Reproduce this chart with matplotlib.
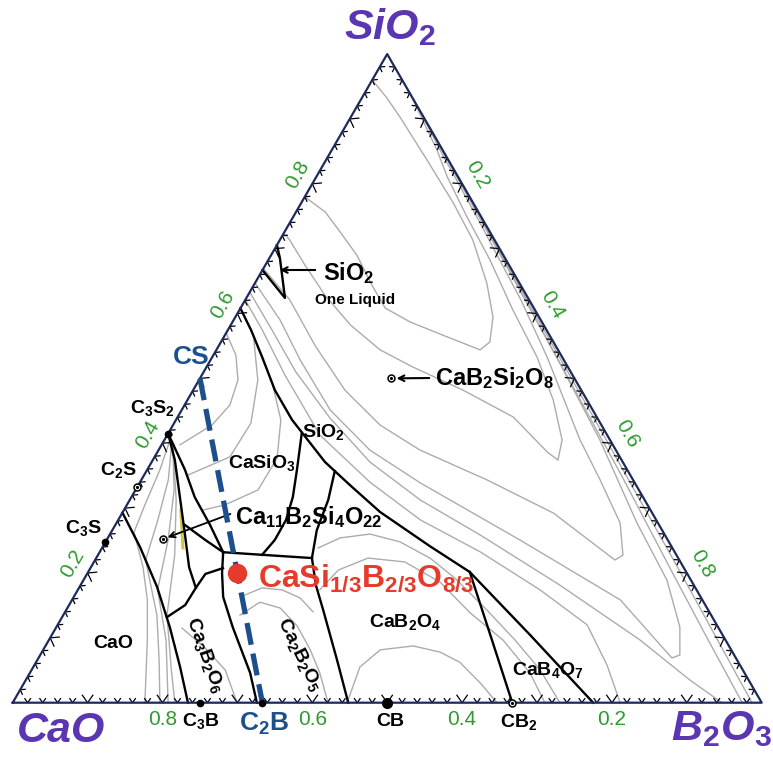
import matplotlib
matplotlib.use("Agg")
import matplotlib.pyplot as plt
import matplotlib.transforms as mtransforms
from matplotlib.collections import LineCollection
import numpy as np

plt.rcParams["font.family"] = ["Liberation Sans", "DejaVu Sans"]
plt.rcParams["mathtext.fontset"] = "custom"
plt.rcParams["mathtext.rm"] = "Liberation Sans:bold"
plt.rcParams["mathtext.it"] = "Liberation Sans:italic:bold"
plt.rcParams["mathtext.bf"] = "Liberation Sans:bold"

# all compositions in mol% as (SiO2, B2O3); CaO is the remainder

# phase field boundaries
liquidus_sio2 = [(60.8, 0), (57.45, 3.1), (53.3, 6.65), (48.2, 10.9), (43.6, 15.5),
                 (37.1, 23.15), (33.55, 28.25), (29.4, 34.35), (24.15, 43.6),
                 (20.15, 50.95), (10.45, 63.85), (0, 77.5)]
cb2_boundary = [(20.15, 50.95), (9.67, 59.15), (0, 66.7)]
casio3_sio2 = [(41.6, 17.8), (35.9, 20.0), (31.7, 21.55), (28.2, 22.4), (25.1, 22.45), (22.8, 21.9)]
ca11_cab2o4 = [(35.7, 25.15), (31.25, 26.5), (26.6, 27.3), (22.3, 28.8)]
ca11_lower = [(23.2, 16.5), (22.8, 21.9), (22.3, 28.8)]
c2b_cb = [(22.3, 28.8), (18.15, 31.4), (14.3, 34.3), (6.6, 40.0), (0, 44.8)]
c3s2_fan = [(41.5, 0), (35.9, 5.05), (31.7, 8.45), (27.4, 12.65), (23.2, 16.5)]
c3b_c2b = [(23.2, 16.5), (20.0, 17.95), (16.3, 19.95), (11.65, 23.55), (4.6, 29.4), (0, 32.6)]
c3b_upper = [(20.75, 17.7), (19.85, 15.8), (17.7, 15.6), (15.05, 15.5), (13.2, 14.0)]
cao_field = [(29.3, 0), (24.0, 5.0), (17.85, 10.35), (11.65, 15.15), (5.5, 19.6), (0, 23.4)]
c2s_field = [(41.5, 0), (37.4, 2.95), (31.25, 6.75), (26.15, 9.9), (20.9, 13.1), (17.7, 15.6)]
c2s_link = [(27.4, 9.3), (25.1, 13.15), (23.2, 16.5)]
liquid_gap = [(66.7, 0), (62.4, 5.15), (68.55, 1.4), (70.55, 0)]
yellow_trace = [(29.7, 7.6), (23.85, 10.8)]

# isotherms
iso_1 = [(96.0, 0), (93.4, 3.15), (90.3, 6.55), (83.7, 13.45), (77.05, 20.3), (71.35, 25.75),
         (64.7, 30.95), (59.45, 34.4), (55.6, 35.9), (54.4, 35.2), (56.4, 29.8), (58.7, 23.7),
         (60.85, 19.3), (64.4, 15.75), (69.0, 11.45), (72.6, 7.4), (75.65, 3.9), (78.0, 0)]
iso_2 = [(93.7, 6.3), (85.2, 14.05), (81.05, 17.5), (74.9, 23.2), (68.25, 29.6), (60.55, 36.5),
         (53.3, 43.35), (46.65, 48.85), (40.5, 53.1), (37.4, 54.1), (38.65, 52.05), (44.05, 44.8),
         (48.2, 36.0), (51.75, 27.55), (54.4, 21.85), (58.25, 15.95), (62.85, 10.25),
         (67.5, 5.25), (71.35, 1.3), (72.4, 0)]
iso_3 = [(91.0, 9.0), (85.0, 14.65), (74.5, 24.9), (62.1, 36.8), (53.3, 44.7), (40.5, 55.5),
         (34.35, 61.25), (27.7, 67.25), (22.75, 70.1), (22.0, 69.4), (29.25, 57.55),
         (34.35, 46.15), (38.95, 34.9), (42.8, 27.65), (48.2, 20.25), (55.15, 12.75),
         (62.1, 5.95), (66.95, 0)]
iso_4 = [(89.0, 11.0), (80.0, 19.8), (65.0, 34.55), (52.0, 47.2), (40.5, 58.15), (27.7, 69.5),
         (18.9, 77.9), (11.65, 83.25), (7.35, 85.4), (6.9, 84.55), (15.85, 73.2), (25.1, 55.15),
         (33.9, 37.45), (38.95, 28.2), (45.15, 19.8), (52.85, 11.95), (59.0, 6.2), (64.7, 0)]
iso_5 = [(63.3, 0), (57.45, 5.9), (51.0, 12.3), (43.9, 20.4), (37.1, 29.15), (31.25, 38.8),
         (25.85, 49.5), (18.15, 63.95), (9.65, 78.95), (3.5, 88.65), (0, 94.7)]
iso_6 = [(62.1, 0), (57.45, 4.6), (50.5, 11.1), (41.25, 20.4), (34.0, 30.7), (28.2, 40.3),
         (23.25, 50.8), (17.4, 61.7), (12.0, 70.7), (5.8, 76.45), (0, 81.1)]
iso_edge_1 = [(88.0, 12.0), (60.0, 39.7), (40.0, 59.5), (20.0, 79.2), (0, 98.7)]
iso_edge_2 = [(75.0, 24.8), (50.0, 49.2), (35.0, 63.8), (20.0, 78.1), (10.0, 87.7), (0, 97.4)]
iso_cab2o4_1 = [(17.4, 32.3), (20.45, 33.25), (22.3, 36.3), (21.7, 41.5), (18.6, 47.75),
                (13.85, 54.15), (9.65, 60.65), (4.6, 66.75), (0, 71.05)]
iso_cab2o4_2 = [(23.85, 28.85), (25.4, 31.0), (26.0, 34.7), (24.8, 39.3), (22.3, 44.55),
                (19.2, 49.45), (14.3, 56.15), (9.65, 62.25), (5.05, 67.9), (0, 73.05)]
iso_cb_dome = [(0, 44.65), (5.5, 43.6), (8.15, 45.0), (8.75, 49.1), (7.8, 53.15),
               (6.25, 56.55), (3.05, 60.9), (0, 64.65)]
iso_c2b_1 = [(13.5, 23.6), (15.5, 25.25), (14.6, 28.4), (11.85, 32.05), (8.15, 35.65),
             (4.6, 38.7), (0, 42.1)]
iso_c2b_2 = [(16.6, 22.7), (17.7, 24.45), (17.4, 27.25), (16.15, 30.3), (14.0, 33.1)]
iso_c3b = [(11.5, 16.85), (8.45, 21.45), (5.05, 25.85), (0, 29.95)]
iso_cao_1 = [(40.5, 0.75), (35.9, 1.7), (30.5, 2.4), (26.3, 3.05), (20.9, 6.95),
             (15.85, 10.05), (9.65, 13.15), (0, 17.65)]
iso_cao_2 = [(40.2, 1.15), (34.35, 3.6), (28.15, 5.3), (22.0, 6.75), (13.5, 12.5),
             (6.6, 16.25), (0, 19.65)]
iso_cao_3 = [(39.75, 1.5), (32.8, 5.15), (25.1, 8.2), (17.4, 10.65), (9.65, 15.65), (0, 20.75)]
iso_cao_4 = [(39.25, 1.8), (31.25, 6.2), (22.75, 10.25), (13.5, 13.85), (5.05, 18.65), (0, 21.65)]
iso_casio3_1 = [(57.0, 0), (53.6, 3.0), (49.75, 5.2), (45.9, 6.05), (42.8, 5.2), (39.75, 2.45)]
iso_casio3_2 = [(55.9, 4.25), (49.75, 7.85), (43.1, 10.25), (37.9, 10.05), (35.1, 5.85)]
iso_casio3_3 = [(49.45, 9.9), (43.6, 14.0), (37.7, 16.45), (32.8, 16.35), (30.5, 13.1), (29.7, 10.55)]

boundaries = [liquidus_sio2, cb2_boundary, casio3_sio2, ca11_cab2o4, ca11_lower, c2b_cb,
              c3s2_fan, c3b_c2b, c3b_upper, cao_field, c2s_field, c2s_link, liquid_gap]
isotherms = [iso_1, iso_2, iso_3, iso_4, iso_5, iso_6, iso_edge_1, iso_edge_2,
             iso_cab2o4_1, iso_cab2o4_2, iso_cb_dome, iso_c2b_1, iso_c2b_2, iso_c3b,
             iso_cao_1, iso_cao_2, iso_cao_3, iso_cao_4,
             iso_casio3_1, iso_casio3_2, iso_casio3_3]

# CS -> C2B join and the target composition
join_cs_c2b = [(50.0, 0), (0, 33.33)]
target = [(20.0, 20.0)]

# compounds
solid_points = [(41.5, 0), (24.7, 0), (0, 25.0), (0, 33.33)]
cb_point = [(0, 50.0)]
open_points = [(33.2, 0), (0, 66.7), (50.0, 25.5), (25.2, 7.4)]

tick_values = [0.2, 0.4, 0.6, 0.8]

H = np.sqrt(3) / 2


def tern(pts):
    p = np.asarray(pts, dtype=float) / 100.0
    return p[:, 1] + p[:, 0] / 2, p[:, 0] * H


fig = plt.figure(figsize=(7.73, 7.60), dpi=100)
ax = fig.add_axes([0, 0, 1, 1])
ax.set_xlim(-0.01696, 1.01509)
ax.set_ylim(-0.0765, 0.9382)
ax.axis("off")

# label placement in pixels, origin at top-left
pix = mtransforms.Affine2D().scale(1 / 773, -1 / 760).translate(0, 1) + fig.transFigure

for line in isotherms:
    ax.plot(*tern(line), color="#acacac", lw=1.0, zorder=1)
ax.plot(*tern(yellow_trace), color="#cfc64a", lw=2.2, zorder=2)
for line in boundaries:
    ax.plot(*tern(line), color="black", lw=1.7, zorder=3, solid_joinstyle="round")

# triangle and chevron ticks
corners = np.array([[0.0, 0.0], [1.0, 0.0], [0.5, H]])
ax.plot(*np.vstack([corners, corners[:1]]).T, color="#1f2a5c", lw=1.6, zorder=5)
segs = []
ang = np.deg2rad(35)
for i in range(3):
    p0, p1 = corners[i], corners[(i + 1) % 3]
    t = (p1 - p0) / np.linalg.norm(p1 - p0)
    n = np.array([-t[1], t[0]])
    for k in range(1, 50):
        f = k / 50
        big = k % 5 == 0
        L = 0.013 if big else 0.0075
        P = p0 + f * (p1 - p0)
        a1 = P + L * (np.cos(ang) * n + np.sin(ang) * t)
        a2 = P + L * (np.cos(ang) * n - np.sin(ang) * t)
        segs.append([a1, P, a2])
ax.add_collection(LineCollection(segs, colors="black", linewidths=0.9, zorder=4))

green = "#2f9a2f"
for v in tick_values:
    ax.annotate(f"{1 - v:.1f}", xy=(v, 0), xytext=(0, -17), textcoords="offset pixels",
                ha="center", va="center", fontsize=15, color=green)
    ax.annotate(f"{v:.1f}", xy=(v / 2, v * H), xytext=(-15, 9), textcoords="offset pixels",
                ha="center", va="center", fontsize=15, color=green, rotation=60)
    ax.annotate(f"{v:.1f}", xy=(0.5 + v / 2, (1 - v) * H), xytext=(15, 9),
                textcoords="offset pixels", ha="center", va="center", fontsize=15,
                color=green, rotation=-60)

# CS - C2B join
blue = "#1d4f8c"
ax.plot(*tern(join_cs_c2b), color=blue, lw=3.8, dashes=(4.2, 1.7), zorder=6)

ax.plot(*tern(solid_points), "o", color="black", ms=4.5, zorder=7)
ax.plot(*tern(cb_point), "o", color="black", ms=7, zorder=7)
ax.plot(*tern(open_points), "o", mfc="white", mec="black", mew=1.1, ms=5, zorder=7)
ax.plot(*tern(open_points), "o", color="black", ms=1.3, zorder=8)

red = "#e63b2b"
ax.plot(*tern(target), "o", color=red, ms=13, zorder=9)

purple = "#5a36b0"
vertex_kw = dict(transform=pix, ha="center", va="center", fontsize=31, fontstyle="italic",
                 fontweight="bold", color=purple)
ax.text(390, 27, r"SiO$_\mathit{2}$", **vertex_kw)
ax.text(61, 731, "CaO", **vertex_kw)
ax.text(721, 729, r"B$_\mathit{2}$O$_\mathit{3}$", **vertex_kw)

labels = [
    (r"C$_3$S$_2$", 152, 408, 14, "black", 0),
    (r"C$_2$S", 118, 470, 14, "black", 0),
    (r"C$_3$S", 83, 528, 14, "black", 0),
    ("CS", 191, 357, 19, blue, 0),
    (r"C$_3$B", 201, 721, 14, "black", 0),
    (r"C$_2$B", 264, 724, 19, blue, 0),
    ("CB", 390, 721, 14, "black", 0),
    (r"CB$_2$", 519, 722, 14, "black", 0),
    ("CaO", 113, 643, 14, "black", 0),
    (r"CaSiO$_3$", 262, 463, 14, "black", 0),
    (r"SiO$_2$", 323, 432, 14, "black", 0),
    (r"CaB$_2$O$_4$", 405, 622, 14, "black", 0),
    (r"CaB$_4$O$_7$", 548, 670, 14, "black", 0),
    (r"Ca$_3$B$_2$O$_6$", 205, 655, 14, "black", -70),
    (r"Ca$_2$B$_2$O$_5$", 300, 655, 14, "black", -64),
]
for text, x, y, size, color, rot in labels:
    ax.text(x, y, text, transform=pix, ha="center", va="center", fontsize=size,
            fontweight="bold", color=color, rotation=rot, zorder=10)

ax.text(323, 273, r"SiO$_2$", transform=pix, ha="left", va="center", fontsize=17,
        fontweight="bold", zorder=10)
ax.text(355, 300, "One Liquid", transform=pix, ha="center", va="center", fontsize=11,
        fontweight="bold", zorder=10)
ax.annotate("", xy=(277, 270), xycoords=pix, xytext=(318, 270), textcoords=pix,
            arrowprops=dict(arrowstyle="->", lw=1.5, color="black"))

danburite = tern(open_points[2:3])
ax.text(435, 378, r"CaB$_2$Si$_2$O$_8$", transform=pix, ha="left", va="center",
        fontsize=17, fontweight="bold", zorder=10)
ax.annotate("", xy=(danburite[0][0], danburite[1][0]), xytext=(432, 378), textcoords=pix,
            arrowprops=dict(arrowstyle="->", lw=1.5, color="black", shrinkB=4))

ca11 = tern(open_points[3:4])
ax.text(235, 517, r"Ca$_{11}$B$_2$Si$_4$O$_{22}$", transform=pix, ha="left", va="center",
        fontsize=17, fontweight="bold", zorder=10)
ax.annotate("", xy=(ca11[0][0], ca11[1][0]), xytext=(233, 513), textcoords=pix,
            arrowprops=dict(arrowstyle="->", lw=1.3, color="black", shrinkB=4))

ax.text(258, 587, r"CaSi$_{1/3}$B$_{2/3}$O$_{8/3}$", transform=pix, ha="left", va="baseline",
        fontsize=23, fontweight="bold", color=red, zorder=10)

fig.savefig("out.png", dpi=100)
